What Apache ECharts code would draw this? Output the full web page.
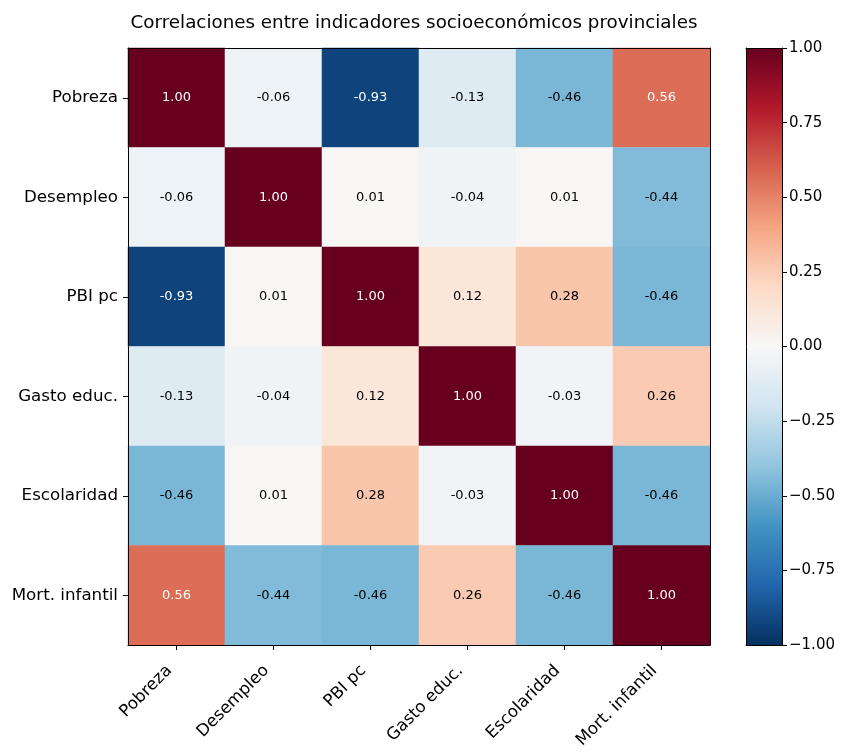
<!DOCTYPE html>
<html><head><meta charset="utf-8">
<script src="https://cdn.jsdelivr.net/npm/echarts@6/dist/echarts.min.js"></script>
<style>html,body{margin:0;padding:0;background:#fff}#c{width:848px;height:755px}</style>
</head><body><div id="c"></div>
<script>
const title = 'Correlaciones entre indicadores socioeconómicos provinciales';
const categories = ['Pobreza', 'Desempleo', 'PBI pc', 'Gasto educ.', 'Escolaridad', 'Mort. infantil'];
const rowPobreza      = [1.00, -0.06, -0.93, -0.13, -0.46, 0.56];
const rowDesempleo    = [-0.06, 1.00, 0.01, -0.04, 0.01, -0.44];
const rowPBI          = [-0.93, 0.01, 1.00, 0.12, 0.28, -0.46];
const rowGasto        = [-0.13, -0.04, 0.12, 1.00, -0.03, 0.26];
const rowEscolaridad  = [-0.46, 0.01, 0.28, -0.03, 1.00, -0.46];
const rowMort         = [0.56, -0.44, -0.46, 0.26, -0.46, 1.00];
const colorbarTicks = [-1.00, -0.75, -0.50, -0.25, 0.00, 0.25, 0.50, 0.75, 1.00];

const rows = [rowPobreza, rowDesempleo, rowPBI, rowGasto, rowEscolaridad, rowMort];
// RdBu_r colormap stops (from -1 to 1)
const rdbuR = ['#053061','#2166ac','#4393c3','#92c5de','#d1e5f0','#f7f7f7','#fddbc7','#f4a582','#d6604d','#b2182b','#67001f'];

const data = [];
rows.forEach((r, yi) => r.forEach((v, xi) => data.push({
  value: [xi, yi, v],
  label: {color: Math.abs(v) > 0.5 ? '#fff' : '#000'}
})));

const font = 'DejaVu Sans';
const fmtMinus = v => (v < 0 ? '\u2212' : '') + Math.abs(v).toFixed(2);
const lineBlack = {show: true, onZero: false, lineStyle: {color: '#000', width: 1}};
const frameAxis = {axisLine: lineBlack, axisTick: {show: false}, axisLabel: {show: false}, splitLine: {show: false}, z: 5};

const chart = echarts.init(document.getElementById('c'), null, {renderer: 'canvas'});
chart.setOption({
  animation: false,
  backgroundColor: '#fff',
  textStyle: {fontFamily: font},
  title: {
    text: title, left: 409, top: 9, textAlign: 'center',
    textStyle: {fontFamily: font, fontSize: 18.3, fontWeight: 'normal', color: '#000'}
  },
  grid: [
    {left: 128, top: 48, width: 582, height: 597, show: false},
    {left: 746, top: 48, width: 36, height: 597, show: false}
  ],
  xAxis: [
    {type: 'category', data: categories, gridIndex: 0, position: 'bottom', z: 5,
     axisLine: lineBlack, splitLine: {show: false},
     axisTick: {show: true, inside: false, alignWithLabel: true, length: 5, lineStyle: {color: '#000'}},
     axisLabel: {rotate: 45, margin: 16, padding: [0, 10, 0, 0], fontSize: 16.7, color: '#000', fontFamily: font}},
    Object.assign({type: 'category', data: categories, gridIndex: 0, position: 'top'}, frameAxis),
    Object.assign({type: 'value', gridIndex: 1, min: 0, max: 1, position: 'bottom'}, frameAxis),
    Object.assign({type: 'value', gridIndex: 1, min: 0, max: 1, position: 'top'}, frameAxis)
  ],
  yAxis: [
    {type: 'category', data: categories, gridIndex: 0, inverse: true, z: 5,
     axisLine: lineBlack, splitLine: {show: false},
     axisTick: {show: true, inside: false, alignWithLabel: true, length: 5, lineStyle: {color: '#000'}},
     axisLabel: {margin: 10, fontSize: 16.7, color: '#000', fontFamily: font}},
    Object.assign({type: 'category', data: categories, gridIndex: 0, inverse: true, position: 'right'}, frameAxis),
    {type: 'value', gridIndex: 1, min: -1, max: 1, interval: 0.25, position: 'right', offset: 0, z: 5,
     axisLine: lineBlack, splitLine: {show: false},
     axisTick: {show: true, inside: false, length: 5, lineStyle: {color: '#000'}},
     axisLabel: {margin: 7, fontSize: 15, color: '#000', fontFamily: font, formatter: v => fmtMinus(v)}},
    Object.assign({type: 'value', gridIndex: 1, min: -1, max: 1, position: 'left'}, frameAxis)
  ],
  visualMap: {
    show: false, type: 'continuous', min: -1, max: 1, seriesIndex: 0, dimension: 2,
    inRange: {color: rdbuR}
  },
  series: [
    {
      type: 'heatmap', xAxisIndex: 0, yAxisIndex: 0, data: data,
      label: {
        show: true, fontSize: 13, fontFamily: font,
        formatter: p => p.value[2].toFixed(2)
      },
      itemStyle: {borderWidth: 0}
    },
    {
      type: 'custom', xAxisIndex: 2, yAxisIndex: 2, data: [[0, 1, 1, -1]], silent: true,
      renderItem: (params, api) => {
        const p1 = api.coord([api.value(0), api.value(1)]);
        const p2 = api.coord([api.value(2), api.value(3)]);
        const stops = rdbuR.slice().reverse().map((c, i) => ({offset: i / (rdbuR.length - 1), color: c}));
        return {type: 'rect', shape: {x: p1[0], y: p1[1], width: p2[0] - p1[0], height: p2[1] - p1[1]},
          style: {fill: new echarts.graphic.LinearGradient(0, 0, 0, 1, stops)}};
      }
    }
  ]
});
</script></body></html>
